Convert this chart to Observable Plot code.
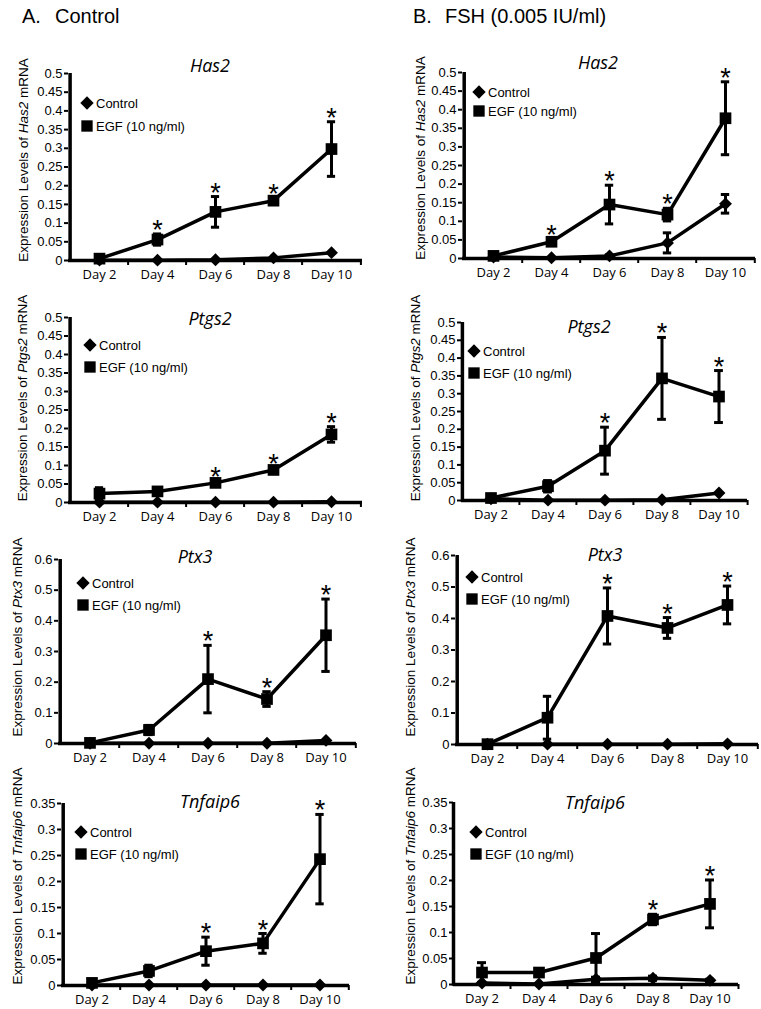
<!DOCTYPE html>
<html><head><meta charset="utf-8">
<script src="https://cdn.jsdelivr.net/npm/d3@7"></script>
<script src="https://cdn.jsdelivr.net/npm/@observablehq/plot@0.6"></script>
<style>
body{margin:0;background:#fff;}
#wrap{position:relative;width:761px;height:1009px;overflow:hidden;background:#fff;}
.hdr{position:absolute;font-family:"Liberation Sans",Arial,sans-serif;font-size:20px;line-height:20px;white-space:pre;color:#000;}
.panel{position:absolute;}
</style></head><body>
<div id="wrap"></div>
<script>
// ---------- data ----------
const days = ["Day 2", "Day 4", "Day 6", "Day 8", "Day 10"];
const seriesNames = ["Control", "EGF (10 ng/ml)"];
const panelLetters = ["A.", "B."];
const conditionNames = ["Control", "FSH (0.005 IU/ml)"];
const genes = ["Has2", "Ptgs2", "Ptx3", "Tnfaip6"];

const ticksHas2 = [0, 0.05, 0.1, 0.15, 0.2, 0.25, 0.3, 0.35, 0.4, 0.45, 0.5];
const ticksPtgs2 = [0, 0.05, 0.1, 0.15, 0.2, 0.25, 0.3, 0.35, 0.4, 0.45, 0.5];
const ticksPtx3 = [0, 0.1, 0.2, 0.3, 0.4, 0.5, 0.6];
const ticksTnfaip6 = [0, 0.05, 0.1, 0.15, 0.2, 0.25, 0.3, 0.35];

// A. Control medium
const has2A_egf = [0.005, 0.056, 0.130, 0.160, 0.298];
const has2A_egfErr = [0.004, 0.015, 0.041, 0.007, 0.073];
const has2A_ctl = [0.001, 0.001, 0.002, 0.007, 0.021];
const has2A_ctlErr = [0, 0, 0, 0, 0];
const has2A_star = [0, 1, 1, 1, 1];

const ptgs2A_egf = [0.024, 0.030, 0.053, 0.088, 0.184];
const ptgs2A_egfErr = [0.016, 0.006, 0.006, 0.006, 0.021];
const ptgs2A_ctl = [0.001, 0.001, 0.001, 0.001, 0.002];
const ptgs2A_ctlErr = [0, 0, 0, 0, 0];
const ptgs2A_star = [0, 0, 1, 1, 1];

const ptx3A_egf = [0.002, 0.044, 0.210, 0.145, 0.353];
const ptx3A_egfErr = [0.003, 0.015, 0.110, 0.024, 0.118];
const ptx3A_ctl = [0.001, 0.001, 0.001, 0.001, 0.010];
const ptx3A_ctlErr = [0, 0, 0, 0, 0];
const ptx3A_star = [0, 0, 1, 1, 1];

const tnfaip6A_egf = [0.005, 0.028, 0.066, 0.081, 0.243];
const tnfaip6A_egfErr = [0.003, 0.011, 0.027, 0.019, 0.086];
const tnfaip6A_ctl = [0.001, 0.001, 0.001, 0.001, 0.001];
const tnfaip6A_ctlErr = [0, 0, 0, 0, 0];
const tnfaip6A_star = [0, 0, 1, 1, 1];

// B. FSH (0.005 IU/ml)
const has2B_egf = [0.007, 0.045, 0.145, 0.118, 0.377];
const has2B_egfErr = [0.004, 0.008, 0.052, 0.017, 0.098];
const has2B_ctl = [0.004, 0.002, 0.007, 0.042, 0.147];
const has2B_ctlErr = [0.002, 0.001, 0.003, 0.027, 0.025];
const has2B_star = [0, 1, 1, 1, 1];

const ptgs2B_egf = [0.007, 0.040, 0.140, 0.343, 0.292];
const ptgs2B_egfErr = [0.005, 0.016, 0.066, 0.115, 0.073];
const ptgs2B_ctl = [0.005, 0.001, 0.001, 0.002, 0.021];
const ptgs2B_ctlErr = [0, 0, 0, 0, 0];
const ptgs2B_star = [0, 0, 1, 1, 1];

const ptx3B_egf = [0.001, 0.085, 0.408, 0.370, 0.443];
const ptx3B_egfErr = [0.002, 0.068, 0.089, 0.033, 0.060];
const ptx3B_ctl = [0.001, 0.001, 0.001, 0.001, 0.002];
const ptx3B_ctlErr = [0, 0, 0, 0, 0];
const ptx3B_star = [0, 0, 1, 1, 1];

const tnfaip6B_egf = [0.023, 0.023, 0.051, 0.125, 0.155];
const tnfaip6B_egfErr = [0.019, 0.006, 0.047, 0.010, 0.046];
const tnfaip6B_ctl = [0.003, 0.001, 0.010, 0.012, 0.008];
const tnfaip6B_ctlErr = [0.001, 0.001, 0.004, 0.004, 0.002];
const tnfaip6B_star = [0, 0, 0, 1, 1];

// ---------- layout (page pixels) ----------
const layouts = [
  {left:0,   top:40,  w:380, h:245, axisX:68,  axisEnd:362, yTop:73,  y0:260, titleX:210, titleY:72,  legX:87,  legY1:103, legY2:126, labX:23,  labY:160},
  {left:380, top:40,  w:381, h:245, axisX:462, axisEnd:755, yTop:72,  y0:258, titleX:598, titleY:69,  legX:479, legY1:92,  legY2:111, labX:420, labY:158},
  {left:0,   top:285, w:380, h:240, axisX:68,  axisEnd:362, yTop:317, y0:502, titleX:210, titleY:325, legX:90,  legY1:345, legY2:367, labX:22,  labY:398},
  {left:380, top:285, w:381, h:240, axisX:461, axisEnd:747, yTop:322, y0:500, titleX:589, titleY:333, legX:474, legY1:351, legY2:373, labX:415, labY:398},
  {left:0,   top:525, w:380, h:245, axisX:58,  axisEnd:356, yTop:559, y0:743, titleX:195, titleY:563, legX:83,  legY1:583, legY2:605, labX:17,  labY:637},
  {left:380, top:525, w:381, h:245, axisX:455, axisEnd:758, yTop:555, y0:744, titleX:605, titleY:561, legX:472, legY1:577, legY2:599, labX:410, labY:637},
  {left:0,   top:770, w:380, h:239, axisX:61,  axisEnd:349, yTop:803, y0:985, titleX:210, titleY:808, legX:81,  legY1:832, legY2:854, labX:17,  labY:876},
  {left:380, top:770, w:381, h:239, axisX:453, axisEnd:738, yTop:802, y0:984, titleX:595, titleY:809, legX:476, legY1:832, legY2:854, labX:410, labY:876}
];

const panels = [
  {gene:genes[0], ticks:ticksHas2, egf:has2A_egf, egfErr:has2A_egfErr, ctl:has2A_ctl, ctlErr:has2A_ctlErr, star:has2A_star},
  {gene:genes[0], ticks:ticksHas2, egf:has2B_egf, egfErr:has2B_egfErr, ctl:has2B_ctl, ctlErr:has2B_ctlErr, star:has2B_star},
  {gene:genes[1], ticks:ticksPtgs2, egf:ptgs2A_egf, egfErr:ptgs2A_egfErr, ctl:ptgs2A_ctl, ctlErr:ptgs2A_ctlErr, star:ptgs2A_star},
  {gene:genes[1], ticks:ticksPtgs2, egf:ptgs2B_egf, egfErr:ptgs2B_egfErr, ctl:ptgs2B_ctl, ctlErr:ptgs2B_ctlErr, star:ptgs2B_star},
  {gene:genes[2], ticks:ticksPtx3, egf:ptx3A_egf, egfErr:ptx3A_egfErr, ctl:ptx3A_ctl, ctlErr:ptx3A_ctlErr, star:ptx3A_star},
  {gene:genes[2], ticks:ticksPtx3, egf:ptx3B_egf, egfErr:ptx3B_egfErr, ctl:ptx3B_ctl, ctlErr:ptx3B_ctlErr, star:ptx3B_star},
  {gene:genes[3], ticks:ticksTnfaip6, egf:tnfaip6A_egf, egfErr:tnfaip6A_egfErr, ctl:tnfaip6A_ctl, ctlErr:tnfaip6A_ctlErr, star:tnfaip6A_star},
  {gene:genes[3], ticks:ticksTnfaip6, egf:tnfaip6B_egf, egfErr:tnfaip6B_egfErr, ctl:tnfaip6B_ctl, ctlErr:tnfaip6B_ctlErr, star:tnfaip6B_star}
];

const wrap = document.getElementById("wrap");
const fmt = d => String(+d.toFixed(2));
const SANS = "'Liberation Sans', Arial, sans-serif";
const MYRIAD = "'Open Sans', sans-serif";

// headers
[[22, 413], [55, 445]].forEach((xs, k) => {
  xs.forEach((x, j) => {
    const div = document.createElement("div");
    div.className = "hdr";
    div.style.left = x + "px";
    div.style.top = "6px";
    div.textContent = k === 0 ? panelLetters[j] : conditionNames[j];
    wrap.appendChild(div);
  });
});

function errMarks(rows, key, errKey, capInset) {
  const r = rows.filter(d => d[errKey] > 0);
  return [
    Plot.ruleX(r, {x: "day", y1: d => d[key] - d[errKey], y2: d => d[key] + d[errKey], strokeWidth: 3}),
    Plot.tickY(r, {x: "day", y: d => d[key] + d[errKey], insetLeft: capInset, insetRight: capInset, strokeWidth: 3}),
    Plot.tickY(r, {x: "day", y: d => d[key] - d[errKey], insetLeft: capInset, insetRight: capInset, strokeWidth: 3})
  ];
}

panels.forEach((p, idx) => {
  const L = layouts[idx];
  const mL = L.axisX - L.left, mR = L.left + L.w - L.axisEnd;
  const mT = L.yTop - L.top, mB = L.top + L.h - L.y0;
  const step = (L.axisEnd - L.axisX) / days.length;
  const capInset = (step - 9) / 2;
  const rows = days.map((day, i) => ({day, egf: p.egf[i], egfErr: p.egfErr[i], ctl: p.ctl[i], ctlErr: p.ctlErr[i], star: p.star[i]}));
  const ymax = p.ticks[p.ticks.length - 1];
  const frameH = L.y0 - L.yTop;

  const svg = Plot.plot({
    width: L.w, height: L.h,
    marginLeft: mL, marginRight: mR, marginTop: mT, marginBottom: mB,
    style: {fontFamily: SANS, color: "#000", background: "transparent", overflow: "visible"},
    x: {type: "band", domain: days, padding: 0, label: null},
    y: {domain: [0, ymax], label: null},
    marks: [
      Plot.axisY({ticks: p.ticks, tickFormat: fmt, tickSize: 4, tickPadding: 2, fontSize: 13, strokeWidth: 2, label: null}),
      Plot.axisX({tickSize: 0, tickPadding: 9, fontSize: 13, fontFamily: MYRIAD, label: null}),
      Plot.tickX(days.slice(1), {x: d => d, dx: -step / 2, insetTop: frameH, insetBottom: -5, strokeWidth: 2}),
      Plot.tickX(days.slice(-1), {x: d => d, dx: step / 2, insetTop: frameH, insetBottom: -5, strokeWidth: 2}),
      Plot.ruleY([0], {strokeWidth: 3.5}),
      Plot.ruleX(days.slice(0, 1), {x: d => d, dx: -step / 2, strokeWidth: 3.5, insetBottom: -1.75}),
      Plot.line(rows, {x: "day", y: "ctl", strokeWidth: 3.5}),
      Plot.line(rows, {x: "day", y: "egf", strokeWidth: 3.5}),
      ...errMarks(rows, "ctl", "ctlErr", capInset),
      ...errMarks(rows, "egf", "egfErr", capInset),
      Plot.dot(rows, {x: "day", y: "ctl", symbol: "diamond2", r: 5.8, fill: "#000"}),
      Plot.dot(rows, {x: "day", y: "egf", symbol: "square", r: 6.6, fill: "#000"}),
      Plot.text(rows.filter(d => d.star), {x: "day", y: d => d.egf + d.egfErr, text: () => "*", fontSize: 27, lineAnchor: "bottom", dy: 5})
    ]
  });

  const s = d3.select(svg);
  const ox = -L.left, oy = -L.top;
  // title
  s.append("text").attr("x", L.titleX + ox).attr("y", L.titleY + oy)
    .attr("text-anchor", "middle").attr("fill", "#000")
    .style("font-family", MYRIAD).style("font-style", "italic").style("font-size", "18px")
    .text(p.gene);
  // y label
  const lab = s.append("text")
    .attr("transform", `translate(${L.labX + ox},${L.labY + oy}) rotate(-90)`)
    .attr("text-anchor", "middle").attr("dy", "0.35em").attr("fill", "#000")
    .style("font-family", SANS).style("font-size", "13.5px");
  lab.append("tspan").text("Expression Levels of ");
  lab.append("tspan").style("font-style", "italic").text(p.gene);
  lab.append("tspan").text(" mRNA");
  // legend
  const lg = s.append("g").attr("fill", "#000");
  lg.append("path").attr("transform", `translate(${L.legX + ox},${L.legY1 + oy})`)
    .attr("d", d3.symbol(d3.symbolDiamond2, 6 * 6 * Math.PI)());
  lg.append("path").attr("transform", `translate(${L.legX + ox},${L.legY2 + oy})`)
    .attr("d", d3.symbol(d3.symbolSquare, 6.4 * 6.4 * Math.PI)());
  [[L.legY1, seriesNames[0]], [L.legY2, seriesNames[1]]].forEach(([yy, t]) => {
    lg.append("text").attr("x", L.legX + ox + 9).attr("y", yy + oy).attr("dy", "0.35em")
      .attr("text-anchor", "start")
      .style("font-family", SANS).style("font-size", "13px").text(t);
  });

  const holder = document.createElement("div");
  holder.className = "panel";
  holder.style.left = L.left + "px";
  holder.style.top = L.top + "px";
  holder.style.width = L.w + "px";
  holder.appendChild(svg);
  wrap.appendChild(holder);
});
</script>
</body></html>
